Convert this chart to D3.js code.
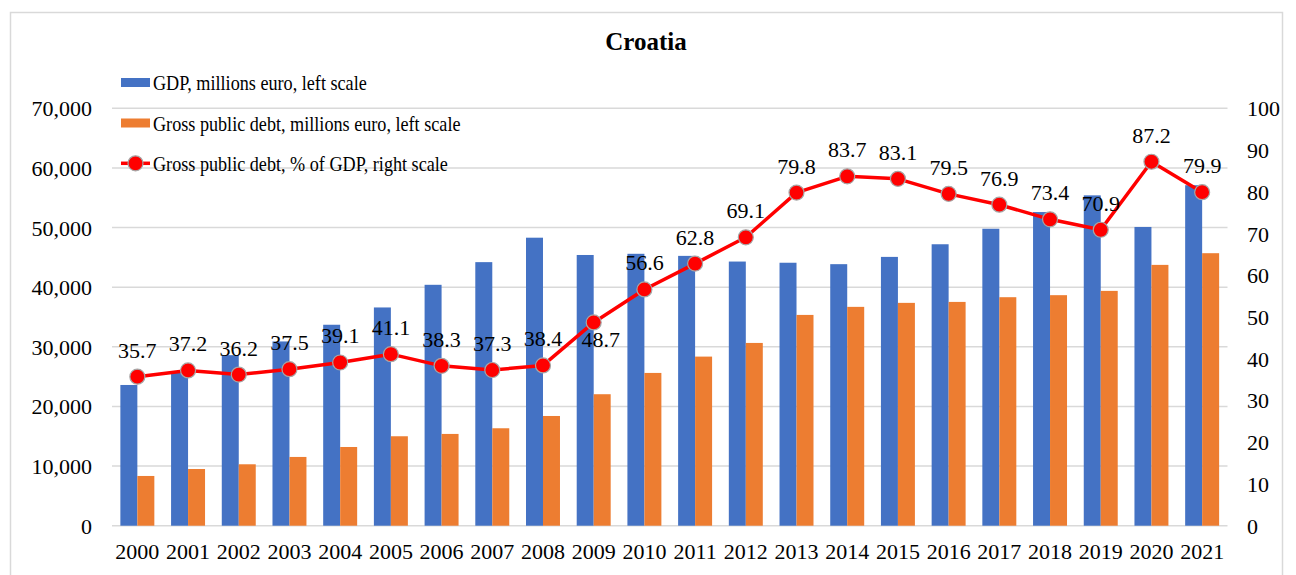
<!DOCTYPE html>
<html>
<head>
<meta charset="utf-8">
<script src="https://cdn.jsdelivr.net/npm/d3@7"></script>
<style>
  body { margin: 0; background: #fff; }
</style>
</head>
<body>
<svg id="chart" width="1296" height="575" font-family="Liberation Serif"></svg>
<script>
const years = ["2000","2001","2002","2003","2004","2005","2006","2007","2008","2009","2010","2011","2012","2013","2014","2015","2016","2017","2018","2019","2020","2021"];
const gdp = [23600,25900,28600,30900,33700,36600,40400,44200,48300,45400,45600,45250,44300,44100,43860,45080,47200,49800,52600,55400,50100,57100];
const debt = [8340,9510,10300,11530,13200,15000,15390,16340,18400,22050,25620,28360,30650,35350,36700,37370,37530,38320,38660,39380,43740,45700];
const debtPct = [35.7,37.2,36.2,37.5,39.1,41.1,38.3,37.3,38.4,48.7,56.6,62.8,69.1,79.8,83.7,83.1,79.5,76.9,73.4,70.9,87.2,79.9];
const leftTicks = [0,10000,20000,30000,40000,50000,60000,70000];
const rightTicks = [0,10,20,30,40,50,60,70,80,90,100];
const seriesNames = ["GDP, millions euro, left scale","Gross public debt, millions euro, left scale","Gross public debt, % of GDP, right scale"];
const title = "Croatia";

const FONT = "Liberation Serif";
const svg = d3.select("#chart");
const FS = 22;
const plot = {left: 112, right: 1227.5, top: 108.3, bottom: 525.7};

// border
svg.append("rect").attr("x", 10.5).attr("y", 12.5).attr("width", 1272).attr("height", 575)
  .attr("fill", "none").attr("stroke", "#d9d9d9").attr("stroke-width", 1.5);

const x = d3.scaleBand().domain(years).range([plot.left, plot.right]).paddingInner(0.33).paddingOuter(0.165);
const yL = d3.scaleLinear().domain([0, 70000]).range([plot.bottom, plot.top]);
const yR = d3.scaleLinear().domain([0, 100]).range([plot.bottom, plot.top]);

// gridlines
svg.append("g").selectAll("line").data(leftTicks).join("line")
  .attr("x1", plot.left).attr("x2", plot.right)
  .attr("y1", d => yL(d)).attr("y2", d => yL(d))
  .attr("stroke", "#d9d9d9").attr("stroke-width", 1.5);

function styleAxis(g) {
  g.attr("font-family", FONT).attr("font-size", FS);
  g.select(".domain").remove();
  g.selectAll("text").attr("font-family", FONT).attr("font-size", FS).attr("fill", "#000");
}

// left axis
const axL = svg.append("g").attr("transform", `translate(${plot.left - 20},0)`)
  .call(d3.axisLeft(yL).tickValues(leftTicks).tickSize(0).tickPadding(0).tickFormat(d3.format(",")));
styleAxis(axL);
axL.selectAll("text").attr("dy", "0.34em");

// right axis
const axR = svg.append("g").attr("transform", `translate(${1247},0)`)
  .call(d3.axisRight(yR).tickValues(rightTicks).tickSize(0).tickPadding(0));
styleAxis(axR);
axR.selectAll("text").attr("dy", "0.34em");

// x axis
const axX = svg.append("g").attr("transform", `translate(0,${plot.bottom})`)
  .call(d3.axisBottom(x).tickSize(0).tickPadding(0));
styleAxis(axX);
axX.selectAll("text").attr("dy", "0").attr("y", 33.5);

// bars
const bw = x.bandwidth() / 2;
svg.append("g").selectAll("rect").data(years).join("rect")
  .attr("x", d => x(d)).attr("width", bw)
  .attr("y", (d, i) => yL(gdp[i])).attr("height", (d, i) => plot.bottom - yL(gdp[i]))
  .attr("fill", "#4472C4");
svg.append("g").selectAll("rect").data(years).join("rect")
  .attr("x", d => x(d) + bw).attr("width", bw)
  .attr("y", (d, i) => yL(debt[i])).attr("height", (d, i) => plot.bottom - yL(debt[i]))
  .attr("fill", "#ED7D31");

// line
const cx = d => x(d) + x.bandwidth() / 2;
const line = d3.line().x((d, i) => cx(years[i])).y(d => yR(d));
svg.append("path").datum(debtPct).attr("d", line)
  .attr("fill", "none").attr("stroke", "#FF0000").attr("stroke-width", 3.5).attr("stroke-linejoin", "round");
svg.append("g").selectAll("circle").data(debtPct).join("circle")
  .attr("cx", (d, i) => cx(years[i])).attr("cy", d => yR(d)).attr("r", 7.5)
  .attr("fill", "#FF0000").attr("stroke", "#A6A6A6").attr("stroke-width", 1.2);

// data labels
svg.append("g").selectAll("text").data(debtPct).join("text")
  .attr("x", (d, i) => cx(years[i]) + (years[i] === "2009" ? 7 : 0))
  .attr("y", (d, i) => yR(d) + (years[i] === "2009" ? 25 : -19))
  .attr("text-anchor", "middle").attr("font-size", FS).attr("font-family", FONT).attr("fill", "#000")
  .text(d => d.toFixed(1));

// title
svg.append("text").attr("x", 646).attr("y", 50).attr("text-anchor", "middle")
  .attr("font-size", 25).attr("font-weight", "bold").attr("font-family", FONT).attr("fill", "#000").text(title);

// legend
const lg = svg.append("g");
const rowsY = [82.5, 123, 163.3];
lg.append("rect").attr("x", 121).attr("y", rowsY[0] - 4.5).attr("width", 29).attr("height", 9).attr("fill", "#4472C4");
lg.append("rect").attr("x", 121).attr("y", rowsY[1] - 4.5).attr("width", 29).attr("height", 9).attr("fill", "#ED7D31");
lg.append("line").attr("x1", 121).attr("x2", 150).attr("y1", rowsY[2]).attr("y2", rowsY[2])
  .attr("stroke", "#FF0000").attr("stroke-width", 3.5);
lg.append("circle").attr("cx", 135.5).attr("cy", rowsY[2]).attr("r", 7.5)
  .attr("fill", "#FF0000").attr("stroke", "#A6A6A6").attr("stroke-width", 1.2);
lg.selectAll("text.leg").data(seriesNames).join("text").attr("class", "leg")
  .attr("x", 153).attr("y", (d, i) => rowsY[i] + 7.5).attr("font-size", FS)
  .attr("font-family", FONT).attr("fill", "#000").text(d => d)
  .each(function() {
    const w = this.getComputedTextLength();
    d3.select(this).attr("textLength", w * 0.825).attr("lengthAdjust", "spacingAndGlyphs");
  });
</script>
</body>
</html>
